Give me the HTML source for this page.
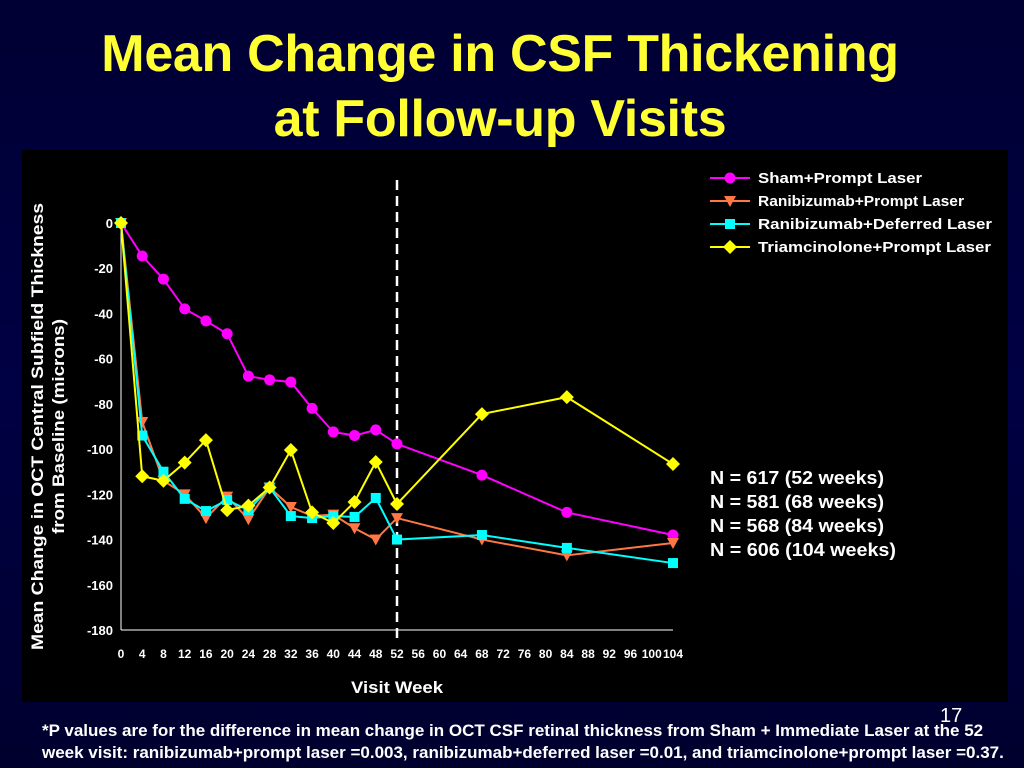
<!DOCTYPE html>
<html><head><meta charset="utf-8"><style>
body{margin:0;width:1024px;height:768px;overflow:hidden;background:linear-gradient(#000033,#000044 50%,#00002e);font-family:"Liberation Sans",sans-serif;position:relative}
#title{position:absolute;left:0;width:1000px;top:22px;text-align:center;color:#ffff33;font-weight:bold;font-size:52px;line-height:65px;letter-spacing:-0.3px}
#foot{position:absolute;left:42px;top:720px;color:#fff;font-weight:bold;font-size:17px;line-height:22px;width:980px;white-space:nowrap}
#pg{position:absolute;left:940px;top:705px;color:#fff;font-size:20px}
</style></head><body>
<div id="title">Mean Change in CSF Thickening<br>at Follow-up Visits</div>
<svg id="c" width="1024" height="768" style="position:absolute;left:0;top:0"></svg>
<div id="pg">17</div>
<div id="foot">*P values are for the difference in mean change in OCT CSF retinal thickness from Sham + Immediate Laser at the 52<br>week visit: ranibizumab+prompt laser =0.003, ranibizumab+deferred laser =0.01, and triamcinolone+prompt laser =0.37.</div>
<script>
const weeks=[0,4,8,12,16,20,24,28,32,36,40,44,48,52,68,84,104];
const sham=[0,-14.6,-24.8,-38,-43.3,-49,-67.7,-69.4,-70.3,-82,-92.4,-94,-91.5,-97.7,-111.5,-128,-138];
const raniPrompt=[0,-88,-114,-120,-130.5,-121,-131,-117,-125.6,-129.6,-129,-135,-140,-130.5,-140,-147,-141.5];
const raniDeferred=[0,-94,-110,-122,-127.4,-122.5,-127,-117,-129.6,-130.5,-129.6,-130,-121.6,-140,-138,-143.7,-150.4];
const triam=[0,-112,-114,-106,-96,-127,-125,-117,-100.4,-128,-132.7,-123.4,-105.7,-124.3,-84.5,-77,-106.6];
const yTicks=[0,-20,-40,-60,-80,-100,-120,-140,-160,-180];
const xTicks=[0,4,8,12,16,20,24,28,32,36,40,44,48,52,56,60,64,68,72,76,80,84,88,92,96,100,104];
const legendNames=["Sham+Prompt Laser","Ranibizumab+Prompt Laser","Ranibizumab+Deferred Laser","Triamcinolone+Prompt Laser"];
const nLines=["N = 617 (52 weeks)","N = 581 (68 weeks)","N = 568 (84 weeks)","N = 606 (104 weeks)"];
const X=w=>121+w*(552/104), Y=v=>223-v*(407/180);
const s=document.getElementById('c'),NS='http://www.w3.org/2000/svg';
function mk(t,a,p){const e=document.createElementNS(NS,t);for(const k in a)e.setAttribute(k,a[k]);(p||s).appendChild(e);return e;}
let r=mk('rect',{x:22,y:150,width:986,height:552,fill:'#000'});


let ya=mk('line',{x1:121,y1:223,x2:121,y2:630,stroke:'#fff','stroke-width':1});


let xa=mk('line',{x1:121,y1:630,x2:673,y2:630,stroke:'#fff','stroke-width':1});


yTicks.forEach(v=>{let t=mk('text',{x:113,y:Y(v)+5,fill:'#fff','font-size':13,'font-weight':'bold','text-anchor':'end','font-family':'Liberation Sans'});t.textContent=v;

});
xTicks.forEach(w=>{let t=mk('text',{x:X(w),y:658,fill:'#fff','font-size':12,'font-weight':'bold','text-anchor':'middle','font-family':'Liberation Sans'});t.textContent=w;

});
const LA='spacingAndGlyphs';
let xt=mk('text',{x:351,y:693,fill:'#fff','font-size':17,'font-weight':'bold','textLength':92,'lengthAdjust':LA,'font-family':'Liberation Sans'});xt.textContent='Visit Week';


let yt=mk('g',{transform:'translate(43,427) rotate(-90)'});


let t1=mk('text',{x:-223,y:0,fill:'#fff','font-size':17,'font-weight':'bold','textLength':447,'lengthAdjust':LA,'font-family':'Liberation Sans'},yt);t1.textContent='Mean Change in OCT Central Subfield Thickness';
let t2=mk('text',{x:-107,y:21,fill:'#fff','font-size':17,'font-weight':'bold','textLength':215,'lengthAdjust':LA,'font-family':'Liberation Sans'},yt);t2.textContent='from Baseline (microns)';
let dl=mk('line',{x1:X(52),y1:180,x2:X(52),y2:640,stroke:'#fff','stroke-width':2.5,'stroke-dasharray':'10,6'});


function marker(type,x,y,c,g){
 if(type==0)return mk('circle',{cx:x,cy:y,r:5.5,fill:c},g);
 if(type==1)return mk('polygon',{points:`${x-6},${y-5} ${x+6},${y-5} ${x},${y+6}`,fill:c},g);
 if(type==2)return mk('rect',{x:x-5,y:y-5,width:10,height:10,fill:c},g);
 return mk('polygon',{points:`${x},${y-7} ${x+7},${y} ${x},${y+7} ${x-7},${y}`,fill:c},g);
}
const legendW=[164,206,234,233];
const series=[sham,raniPrompt,raniDeferred,triam],cols=['#ff00ff','#ff7744','#00ffff','#ffff00'],sn=['sham','rani-prompt','rani-deferred','triam'];
series.forEach((d,i)=>{
 let g=mk('g',{});
 
 
 mk('polyline',{points:d.map((v,j)=>X(weeks[j])+','+Y(v)).join(' '),fill:'none',stroke:cols[i],'stroke-width':2},g);
 d.forEach((v,j)=>{let m=marker(i,X(weeks[j]),Y(v),cols[i],g);
 
 });
 let lg=mk('g',{});
 
 
 let ly=178+i*23;
 mk('line',{x1:710,y1:ly,x2:750,y2:ly,stroke:cols[i],'stroke-width':2},lg);
 marker(i,730,ly,cols[i],lg);
 let lt=mk('text',{x:758,y:ly+5,fill:'#fff','font-size':15,'font-weight':'bold','textLength':legendW[i],'lengthAdjust':LA,'font-family':'Liberation Sans'},lg);lt.textContent=legendNames[i];
});
const nW=[174,174,174,186];
nLines.forEach((l,i)=>{let t=mk('text',{x:710,y:484+i*24,fill:'#fff','font-size':18,'font-weight':'bold','textLength':nW[i],'lengthAdjust':LA,'font-family':'Liberation Sans'});t.textContent=l;

});
</script>
</body></html>
